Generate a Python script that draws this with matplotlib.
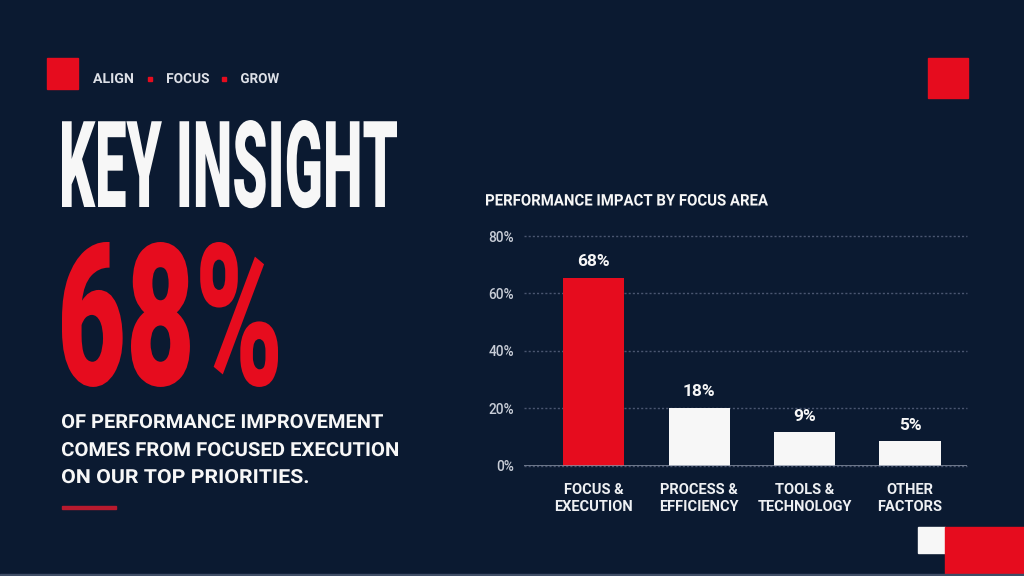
import matplotlib
matplotlib.use("Agg")
import matplotlib.pyplot as plt
from matplotlib import patheffects
from matplotlib.patches import Rectangle
from matplotlib.textpath import TextPath
from matplotlib.font_manager import FontProperties
from matplotlib.transforms import Affine2D

BG = "#0b1a31"
RED = "#e60c1e"
WHITE = "#f7f7f7"
FONT = "Roboto"

# chart data
categories = ["FOCUS &\nEXECUTION", "PROCESS &\nEFFICIENCY", "TOOLS &\nTECHNOLOGY", "OTHER\nFACTORS"]
bar_heights = [65.5, 20.2, 11.8, 8.4]   # as drawn in the picture
value_labels = ["68%", "18%", "9%", "5%"]
bar_colors = [RED, WHITE, WHITE, WHITE]
y_ticks = [0, 20, 40, 60, 80]
y_tick_labels = ["0%", "20%", "40%", "60%", "80%"]

# slide texts
tagline = ["ALIGN", "FOCUS", "GROW"]
headline = "KEY INSIGHT"
big_number = "68%"
body_lines = ["OF PERFORMANCE IMPROVEMENT",
              "COMES FROM FOCUSED EXECUTION",
              "ON OUR TOP PRIORITIES."]
chart_title = "PERFORMANCE IMPACT BY FOCUS AREA"

DPI = 100


class Stretch(patheffects.AbstractPathEffect):
    # make glyphs taller around the baseline, keeps the text narrow
    def __init__(self, sy):
        super().__init__()
        self.sy = sy

    def draw_path(self, renderer, gc, tpath, affine, rgbFace=None):
        renderer.draw_path(gc, tpath, Affine2D().scale(1.0, self.sy) + affine, rgbFace)


def fit_text(ax, s, left, top, width, height, color, weight="bold"):
    fp = FontProperties(family=FONT, weight=weight, size=100)
    ext = TextPath((0, 0), s, prop=fp).get_extents()
    px = DPI / 72
    size = 100 * width / (ext.width * px)
    k = size / 100 * px
    sy = height / (ext.y1 * k)
    x = left - ext.x0 * k
    y = top + height
    ax.text(x, y, s, fontproperties=FontProperties(family=FONT, weight=weight, size=size),
            color=color, ha="left", va="baseline", path_effects=[Stretch(sy)])


fig = plt.figure(figsize=(10.24, 5.76), dpi=DPI, facecolor=BG)
bg = fig.add_axes([0, 0, 1, 1])
bg.set_xlim(0, 1024)
bg.set_ylim(576, 0)
bg.axis("off")

# decorative blocks
bg.add_patch(Rectangle((47, 58), 31, 31, color=RED))
bg.add_patch(Rectangle((928, 58), 40, 40, color=RED))
bg.add_patch(Rectangle((918, 527), 27, 26, color=WHITE))
bg.add_patch(Rectangle((945, 527), 79, 49, color=RED))
bg.add_patch(Rectangle((62, 506), 54, 3, color="#b81a2e"))
bg.add_patch(Rectangle((0, 574), 1024, 2, color="#3f4d66"))

# tagline
tag_x = [93, 167, 241]
tag_w = [40, 42, 38]
for word, xx, w in zip(tagline, tag_x, tag_w):
    fit_text(bg, word, xx, 73, w, 10, "#dde0e7", weight="bold")
for xx in [150, 224]:
    bg.add_patch(Rectangle((xx - 2, 76.5), 4, 4, color=RED))

fit_text(bg, headline, 62, 120, 335, 87, WHITE, weight="black")
fit_text(bg, big_number, 62, 242, 216, 143, RED, weight="black")

body_tops = [414, 442, 469]
body_widths = [321, 336, 246]
for line, t, w in zip(body_lines, body_tops, body_widths):
    fit_text(bg, line, 62, t, w, 14, WHITE, weight="bold")

fit_text(bg, chart_title, 486, 194, 282, 11.5, WHITE, weight="bold")

# bar chart
ax_left, ax_right = 524, 967
ax_top, ax_bottom = 236, 465.5
ax = fig.add_axes([ax_left / 1024, (576 - ax_bottom) / 576,
                   (ax_right - ax_left) / 1024, (ax_bottom - ax_top) / 576])
ax.set_facecolor("none")
xs = list(range(len(categories)))
bars = ax.bar(xs, bar_heights, width=0.58, color=bar_colors, zorder=3)
for xx, h, lab in zip(xs, bar_heights, value_labels):
    ax.annotate(lab, (xx, h), xytext=(0, 8), textcoords="offset points",
                ha="center", va="baseline", color=WHITE, fontsize=12.5,
                fontweight="bold", family=FONT)

ax.set_xlim(-0.66, 3.54)
ax.set_ylim(0, 80)
ax.set_yticks(y_ticks, y_tick_labels)
ax.set_xticks(xs, categories)
for sp in ax.spines.values():
    sp.set_visible(False)
ax.grid(axis="y", linestyle=(0, (1.5, 1.5)), color="#4a5670", linewidth=1, zorder=1)
ax.grid(axis="x", visible=False)
for gl in ax.get_ygridlines():
    gl.set_clip_on(False)
ax.axhline(0, color="#8b94a6", linewidth=1.8, zorder=4)

ax.tick_params(axis="y", length=0, pad=7.2, labelcolor="#c8cdd7", labelsize=9.8)
ax.tick_params(axis="x", length=0, pad=12.5, labelcolor="#eef0f3", labelsize=10.5)
for t in ax.get_yticklabels():
    t.set_family(FONT)
    t.set_fontweight("medium")
for t in ax.get_xticklabels():
    t.set_family(FONT)
    t.set_fontweight("bold")
    t.set_linespacing(1.3)

fig.savefig("out.png", dpi=DPI, facecolor=BG)
